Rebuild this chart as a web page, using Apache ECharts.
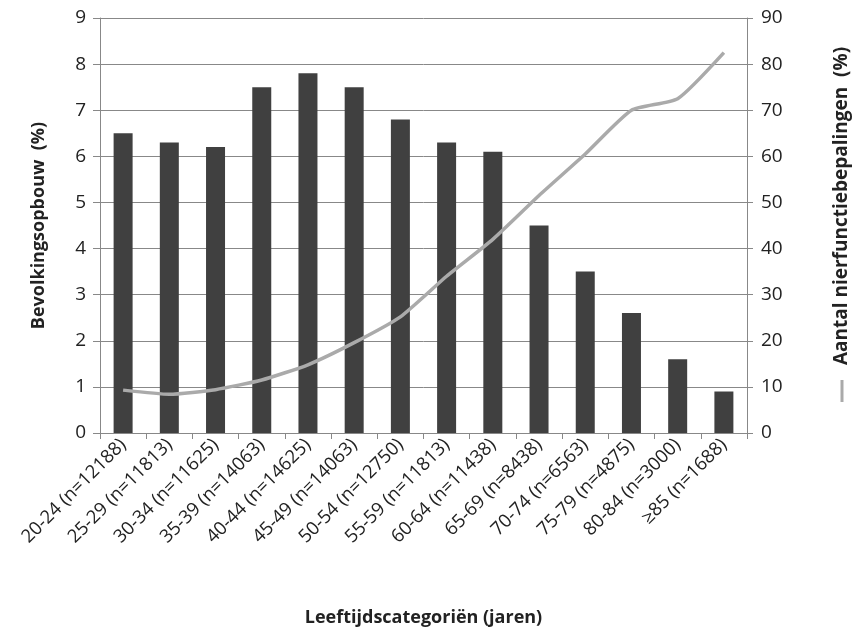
<!DOCTYPE html>
<html>
<head>
<meta charset="utf-8">
<script src="https://cdn.jsdelivr.net/npm/echarts@6/dist/echarts.min.js"></script>
<style>html,body{margin:0;padding:0;background:#fff}#c{width:853px;height:632px}</style>
</head>
<body>
<div id="c"></div>
<script>
const categories = ['20-24 (n=12188)','25-29 (n=11813)','30-34 (n=11625)','35-39 (n=14063)','40-44 (n=14625)','45-49 (n=14063)','50-54 (n=12750)','55-59 (n=11813)','60-64 (n=11438)','65-69 (n=8438)','70-74 (n=6563)','75-79 (n=4875)','80-84 (n=3000)','≥85 (n=1688)'];
const bevolking = [6.5, 6.3, 6.2, 7.5, 7.8, 7.5, 6.8, 6.3, 6.1, 4.5, 3.5, 2.6, 1.6, 0.9];
const nierfunctie = [9.3, 8.4, 9.4, 11.5, 14.8, 19.6, 25.2, 34, 42, 51.5, 60.5, 70, 72.5, 82.5];
const leftTicks = [0,1,2,3,4,5,6,7,8,9];
const rightTicks = [0,10,20,30,40,50,60,70,80,90];

const font = '"Open Sans", "Liberation Sans", sans-serif';
const chart = echarts.init(document.getElementById('c'));
chart.setOption({
  animation: false,
  backgroundColor: '#fff',
  grid: {left: 100, right: 106, top: 18, bottom: 199},
  xAxis: {
    type: 'category', data: categories,
    axisLine: {lineStyle: {color: '#888', width: 1}},
    axisTick: {show: true, length: 6, lineStyle: {color: '#888'}},
    axisLabel: {interval: 0, rotate: 45, fontSize: 18.5, color: '#222', fontFamily: font, margin: 9},
    name: 'Leeftijdscategoriën (jaren)', nameLocation: 'middle', nameGap: 176,
    nameTextStyle: {fontSize: 18, fontWeight: 'bold', color: '#222', fontFamily: font}
  },
  yAxis: [{
    type: 'value', min: leftTicks[0], max: leftTicks[leftTicks.length-1], interval: 1,
    axisLine: {show: true, lineStyle: {color: '#888'}},
    axisTick: {show: true, length: 7, lineStyle: {color: '#888'}},
    splitLine: {lineStyle: {color: '#888', width: 1}},
    axisLabel: {fontSize: 19, color: '#222', fontFamily: font, margin: 14},
    name: 'Bevolkingsopbouw  (%)', nameLocation: 'middle', nameRotate: 90, nameGap: 52,
    nameTextStyle: {fontSize: 18, fontWeight: 'bold', color: '#222', fontFamily: font}
  }, {
    type: 'value', min: rightTicks[0], max: rightTicks[rightTicks.length-1], interval: 10,
    axisLine: {show: true, lineStyle: {color: '#888'}},
    axisTick: {show: true, length: 6, lineStyle: {color: '#888'}},
    splitLine: {show: false},
    axisLabel: {fontSize: 19, color: '#222', fontFamily: font, margin: 14}
  }],
  graphic: [{
    type: 'text', x: 842, y: 206, rotation: Math.PI/2,
    style: {text: 'Aantal nierfunctiebepalingen  (%)', font: 'bold 19px ' + font, fill: '#222', align: 'center', verticalAlign: 'middle'}
  }, {
    type: 'line', shape: {x1: 842, y1: 380, x2: 842, y2: 402},
    style: {stroke: '#aaa', lineWidth: 3}
  }],
  series: [{
    type: 'bar', data: bevolking, yAxisIndex: 0, barWidth: 19,
    itemStyle: {color: '#404040'}
  }, {
    type: 'line', data: nierfunctie, yAxisIndex: 1, smooth: 0.18,
    symbol: 'none', lineStyle: {color: '#aaa', width: 3.5}
  }]
});
</script>
</body>
</html>
